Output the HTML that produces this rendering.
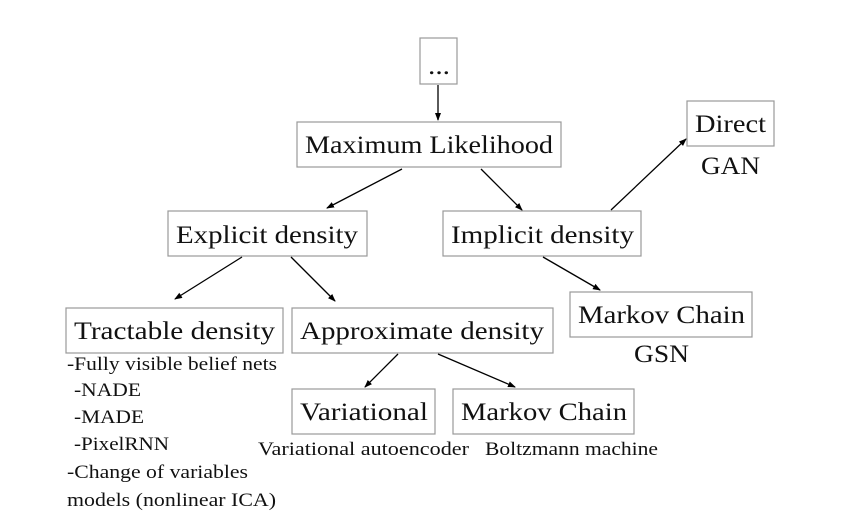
<!DOCTYPE html>
<html><head><style>
body{margin:0;background:#fff;}
svg text{font-family:"Liberation Serif",serif;fill:#111;}
.b{fill:#fff;stroke:#999;stroke-width:1.2}
.L{font-size:25px}
.S{font-size:19px}
line{stroke:#000;stroke-width:1.3;marker-end:url(#a)}
</style></head><body>
<svg width="861" height="524" xmlns="http://www.w3.org/2000/svg">
<defs><marker id="a" markerWidth="8" markerHeight="8" refX="7" refY="4" orient="auto" markerUnits="userSpaceOnUse"><path d="M0,1 L8,4 L0,7 Z" fill="#000"/></marker></defs>
<rect class="b" x="420" y="38" width="37" height="46"/>
<text class="L" x="428" y="74" textLength="22" lengthAdjust="spacingAndGlyphs">...</text>
<rect class="b" x="297" y="122" width="264" height="45"/>
<text class="L" x="305" y="153" textLength="248" lengthAdjust="spacingAndGlyphs">Maximum Likelihood</text>
<rect class="b" x="687" y="101" width="87" height="45"/>
<text class="L" x="695" y="132" textLength="71" lengthAdjust="spacingAndGlyphs">Direct</text>
<text class="L" x="701" y="174" textLength="59" lengthAdjust="spacingAndGlyphs">GAN</text>
<rect class="b" x="168" y="211" width="199" height="45"/>
<text class="L" x="176" y="243" textLength="182" lengthAdjust="spacingAndGlyphs">Explicit density</text>
<rect class="b" x="443" y="211" width="198" height="45"/>
<text class="L" x="451" y="243" textLength="183" lengthAdjust="spacingAndGlyphs">Implicit density</text>
<rect class="b" x="66" y="308" width="217" height="45"/>
<text class="L" x="74" y="339" textLength="201" lengthAdjust="spacingAndGlyphs">Tractable density</text>
<rect class="b" x="292" y="308" width="261" height="45"/>
<text class="L" x="300" y="339" textLength="244" lengthAdjust="spacingAndGlyphs">Approximate density</text>
<rect class="b" x="570" y="292" width="182" height="45"/>
<text class="L" x="578" y="323" textLength="167" lengthAdjust="spacingAndGlyphs">Markov Chain</text>
<text class="L" x="634" y="362" textLength="55" lengthAdjust="spacingAndGlyphs">GSN</text>
<rect class="b" x="292" y="389" width="143" height="45"/>
<text class="L" x="300" y="420" textLength="128" lengthAdjust="spacingAndGlyphs">Variational</text>
<rect class="b" x="453" y="389" width="181" height="45"/>
<text class="L" x="461" y="420" textLength="166" lengthAdjust="spacingAndGlyphs">Markov Chain</text>
<text class="S" x="258" y="455" textLength="211" lengthAdjust="spacingAndGlyphs">Variational autoencoder</text>
<text class="S" x="485" y="455" textLength="173" lengthAdjust="spacingAndGlyphs">Boltzmann machine</text>
<text class="S" x="67" y="370" textLength="210" lengthAdjust="spacingAndGlyphs">-Fully visible belief nets</text>
<text class="S" x="74" y="396" textLength="67" lengthAdjust="spacingAndGlyphs">-NADE</text>
<text class="S" x="74" y="423" textLength="70" lengthAdjust="spacingAndGlyphs">-MADE</text>
<text class="S" x="74" y="450" textLength="95" lengthAdjust="spacingAndGlyphs">-PixelRNN</text>
<text class="S" x="67" y="478" textLength="181" lengthAdjust="spacingAndGlyphs">-Change of variables</text>
<text class="S" x="67" y="506" textLength="209" lengthAdjust="spacingAndGlyphs">models (nonlinear ICA)</text>
<line x1="438" y1="85" x2="438" y2="120"/>
<line x1="402" y1="169" x2="327" y2="208"/>
<line x1="481" y1="169" x2="522" y2="210"/>
<line x1="242" y1="257" x2="175" y2="299"/>
<line x1="291" y1="257" x2="335" y2="301"/>
<line x1="543" y1="257" x2="600" y2="290"/>
<line x1="611" y1="210" x2="686" y2="139"/>
<line x1="398" y1="354" x2="365" y2="387"/>
<line x1="438" y1="354" x2="515" y2="387"/>
</svg>
</body></html>
